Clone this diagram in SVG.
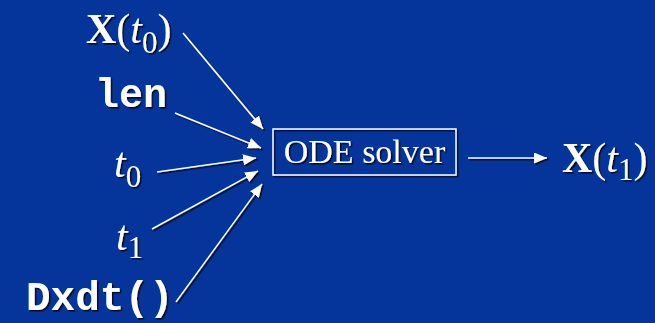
<svg xmlns="http://www.w3.org/2000/svg" width="655" height="323" viewBox="0 0 655 323">
  <defs>
    <filter id="shadow" x="-10%" y="-10%" width="130%" height="140%">
      <feDropShadow dx="1.5" dy="1.5" stdDeviation="0.6" flood-color="#000022" flood-opacity="0.8"/>
    </filter>
    <marker id="head" markerUnits="userSpaceOnUse" markerWidth="14" markerHeight="12" refX="13" refY="5.5" orient="auto">
      <path d="M0,0 L13,5.5 L0,11 Z" fill="#ffffff"/>
    </marker>
  </defs>
  <style>
    .serif { font-family: "Liberation Serif", "Times New Roman", serif; fill: #ffffff; }
    .mono { font-family: "Liberation Mono", "Courier New", monospace; font-weight: bold; fill: #ffffff; }
    .b { font-weight: bold; }
    .i { font-style: italic; }
    .sub { font-size: 31px; }
    .edge { stroke: #ffffff; stroke-width: 1.5; fill: none; marker-end: url(#head); }
  </style>
  <rect width="655" height="323" fill="#05349a"/>

  <g filter="url(#shadow)">
    <g id="in-x0">
      <text class="serif" x="86" y="43" font-size="42"><tspan class="b">X</tspan>(<tspan class="i">t</tspan><tspan class="sub" dy="10">0</tspan><tspan dy="-10">)</tspan></text>
    </g>
    <g id="in-len">
      <text class="mono" x="95" y="107" font-size="40">len</text>
    </g>
    <g id="in-t0">
      <text class="serif" x="114" y="177" font-size="42"><tspan class="i">t</tspan><tspan class="sub" dy="10">0</tspan></text>
    </g>
    <g id="in-t1">
      <text class="serif" x="116" y="250" font-size="42"><tspan class="i">t</tspan><tspan class="sub" dy="8">1</tspan></text>
    </g>
    <g id="in-dxdt">
      <text class="mono" x="26" y="310" font-size="41">Dxdt()</text>
    </g>
    <g id="solver">
      <rect x="273" y="129" width="183" height="46" fill="none" stroke="#ffffff" stroke-width="1.5"/>
      <text class="serif" x="364.5" y="163" font-size="34" text-anchor="middle">ODE solver</text>
    </g>
    <g id="out-x1">
      <text class="serif" x="562" y="172" font-size="42"><tspan class="b">X</tspan>(<tspan class="i">t</tspan><tspan class="sub" dy="8">1</tspan><tspan dy="-8">)</tspan></text>
    </g>

    <g id="connectors">
      <line class="edge" x1="183" y1="33" x2="263" y2="129"/>
      <line class="edge" x1="175" y1="113" x2="261" y2="148"/>
      <line class="edge" x1="157" y1="172" x2="256" y2="158"/>
      <line class="edge" x1="152" y1="229" x2="258" y2="171"/>
      <line class="edge" x1="176" y1="302" x2="262" y2="184"/>
      <line class="edge" x1="468" y1="158" x2="547" y2="158"/>
    </g>
  </g>
</svg>
